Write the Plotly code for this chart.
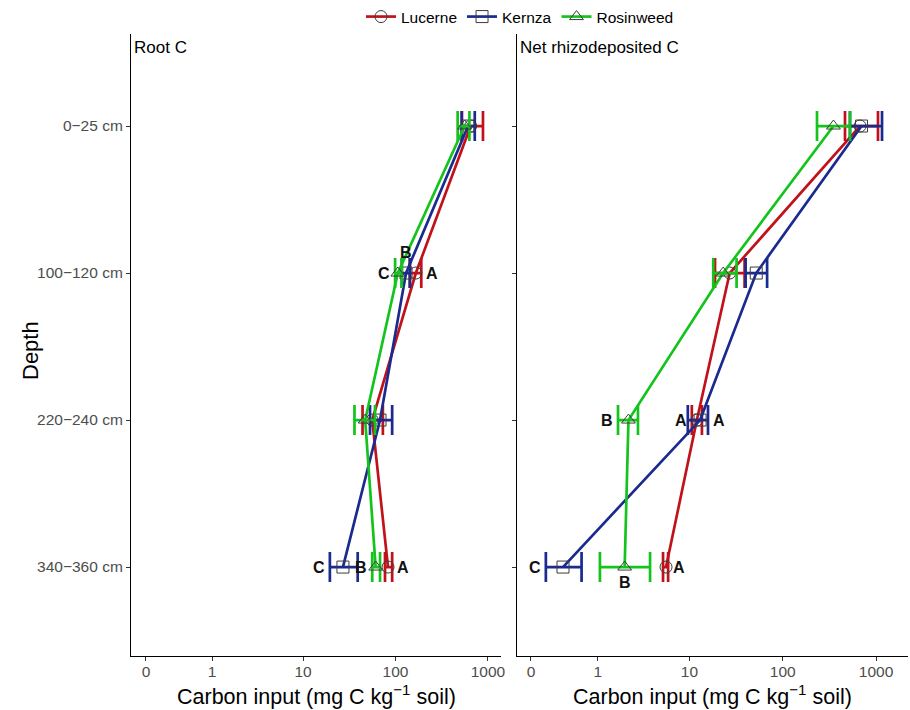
import numpy as np
import plotly.graph_objects as go

depths = ["0−25 cm", "100−120 cm", "220−240 cm", "340−360 cm"]
species = ["Lucerne", "Kernza", "Rosinweed"]

# Root C (mg C kg-1 soil): mean, lower, upper
root_lucerne = [650, 166, 56, 83]
root_lucerne_lo = [523, 143, 44, 77]
root_lucerne_hi = [883, 190, 73, 92]
root_kernza = [610, 130, 68, 27]
root_kernza_lo = [520, 117, 53, 19.5]
root_kernza_hi = [720, 143, 92, 39]
root_rosinweed = [560, 106, 47, 61]
root_rosinweed_lo = [470, 99, 36, 56]
root_rosinweed_hi = [630, 117, 60, 68]

# Net rhizodeposited C
net_lucerne = [674, 27, 12, 5.6]
net_lucerne_lo = [465, 18.8, 10.6, 5.2]
net_lucerne_hi = [1050, 39, 13.6, 5.9]
net_kernza = [700, 52, 13, 0.35]
net_kernza_lo = [526, 40, 9.6, 0.15]
net_kernza_hi = [1160, 68, 15.8, 0.64]
net_rosinweed = [350, 23, 2.2, 2.0]
net_rosinweed_lo = [233, 18, 1.69, 1.06]
net_rosinweed_hi = [526, 32, 2.79, 3.77]

# significance letters: (panel, depth index, species, letter, side)
letters = [
    ("root", 1, "Rosinweed", "C", "left"),
    ("root", 1, "Kernza", "B", "top"),
    ("root", 1, "Lucerne", "A", "right"),
    ("root", 3, "Kernza", "C", "left"),
    ("root", 3, "Rosinweed", "B", "left"),
    ("root", 3, "Lucerne", "A", "right"),
    ("net", 2, "Rosinweed", "B", "left"),
    ("net", 2, "Lucerne", "A", "left"),
    ("net", 2, "Kernza", "A", "right"),
    ("net", 3, "Kernza", "C", "left"),
    ("net", 3, "Rosinweed", "B", "bottom"),
    ("net", 3, "Lucerne", "A", "right"),
]

tick_vals = [0, 1, 10, 100, 1000]
tick_text = ["0", "1", "10", "100", "1000"]

colors = {"Lucerne": "#C0121B", "Kernza": "#1B2A8F", "Rosinweed": "#14C41C"}
symbols = {"Lucerne": "circle-open", "Kernza": "square-open", "Rosinweed": "triangle-up-open"}

SIG = 0.2


def tr(v):
    v = np.asarray(v, dtype=float)
    return np.arcsinh(v / (2 * SIG)) / np.log(10)


data = {
    "root": {
        "Lucerne": (root_lucerne, root_lucerne_lo, root_lucerne_hi),
        "Kernza": (root_kernza, root_kernza_lo, root_kernza_hi),
        "Rosinweed": (root_rosinweed, root_rosinweed_lo, root_rosinweed_hi),
    },
    "net": {
        "Lucerne": (net_lucerne, net_lucerne_lo, net_lucerne_hi),
        "Kernza": (net_kernza, net_kernza_lo, net_kernza_hi),
        "Rosinweed": (net_rosinweed, net_rosinweed_lo, net_rosinweed_hi),
    },
}

fig = go.Figure()
axes = {"root": ("x", "y"), "net": ("x2", "y2")}
for panel in ["root", "net"]:
    xa, ya = axes[panel]
    for sp in species:
        m, lo, hi = data[panel][sp]
        tm, tl, th = tr(m), tr(lo), tr(hi)
        fig.add_trace(go.Scatter(
            x=tm, y=list(range(len(depths))), xaxis=xa, yaxis=ya,
            mode="lines+markers", name=sp, legendgroup=sp,
            showlegend=(panel == "root"),
            line=dict(color=colors[sp], width=2.7),
            marker=dict(symbol=symbols[sp], size=12, color="#3C3C3C",
                        line=dict(width=1, color="#3C3C3C")),
            error_x=dict(type="data", symmetric=False, array=th - tm,
                         arrayminus=tm - tl, color=colors[sp],
                         thickness=2.7, width=15),
        ))

annotations = []
for panel, di, sp, let, side in letters:
    xa, ya = axes[panel]
    m, lo, hi = data[panel][sp]
    if side == "left":
        x, xanchor, xs, ys = tr(lo[di]), "right", -3, 0
    elif side == "right":
        x, xanchor, xs, ys = tr(hi[di]), "left", 3, 0
    elif side == "top":
        x, xanchor, xs, ys = tr(m[di]), "center", 0, 21
    else:
        x, xanchor, xs, ys = tr(m[di]), "center", 0, -15
    annotations.append(dict(x=float(x), y=di, xref=xa, yref=ya, text="<b>" + let + "</b>",
                            showarrow=False, xanchor=xanchor, yanchor="middle",
                            xshift=xs, yshift=ys,
                            font=dict(size=16, color="#111111", family="Liberation Sans")))

# panel titles
annotations.append(dict(x=0, y=1, xref="x domain", yref="y domain", text="Root C",
                        showarrow=False, xanchor="left", yanchor="top", xshift=1, yshift=-2,
                        font=dict(size=17, color="black")))
annotations.append(dict(x=0, y=1, xref="x2 domain", yref="y2 domain", text="Net rhizodeposited C",
                        showarrow=False, xanchor="left", yanchor="top", xshift=1, yshift=-2,
                        font=dict(size=17, color="black")))
# axis titles
xt = "Carbon input (mg C kg<sup>−1</sup> soil)"
annotations.append(dict(x=0.5, y=1 - 695 / 710, xref="x domain", yref="paper", text=xt, showarrow=False,
                        xanchor="center", yanchor="middle", font=dict(size=21.5, color="black")))
annotations.append(dict(x=0.5, y=1 - 695 / 710, xref="x2 domain", yref="paper", text=xt, showarrow=False,
                        xanchor="center", yanchor="middle", font=dict(size=21.5, color="black")))
annotations.append(dict(x=30 / 910, y=0.5, xref="paper", yref="y domain", text="Depth", showarrow=False,
                        textangle=-90, xanchor="center", yanchor="middle", yshift=-6,
                        font=dict(size=22, color="black")))

xcommon = dict(tickvals=[float(v) for v in tr(tick_vals)], ticktext=tick_text,
               showline=True, linecolor="black", linewidth=1.2, ticks="outside",
               ticklen=4, tickcolor="#333333", showgrid=False, zeroline=False,
               ticklabelstandoff=-3,
               tickfont=dict(size=15.5, color="#4D4D4D"), automargin=False)
ycommon = dict(tickvals=list(range(len(depths))), ticktext=depths,
               range=[3.605, -0.626], showline=True, linecolor="black", linewidth=1.2,
               ticks="outside", ticklen=4, tickcolor="#333333", showgrid=False,
               zeroline=False, tickfont=dict(size=15.5, color="#4D4D4D"), automargin=False,
               domain=[1 - 656 / 710, 1 - 34 / 710])

fig.update_layout(
    width=910, height=710,
    margin=dict(l=0, r=0, t=0, b=0),
    paper_bgcolor="white", plot_bgcolor="white",
    font=dict(family="Liberation Sans, Arial, sans-serif", color="black"),
    xaxis=dict(domain=[131 / 910, 501 / 910], range=[-0.162, 3.84], anchor="y", **xcommon),
    xaxis2=dict(domain=[517 / 910, 908 / 910], range=[-0.150, 4.042], anchor="y2", **xcommon),
    yaxis=dict(anchor="x", **ycommon),
    yaxis2=dict(anchor="x2", showticklabels=False,
                **{k: v for k, v in ycommon.items() if k != "ticktext"}),
    legend=dict(orientation="h", x=520 / 910, xanchor="center", y=1.0, yanchor="top",
                font=dict(size=15.5, color="black"), itemwidth=30, tracegroupgap=0,
                bgcolor="rgba(0,0,0,0)"),
    annotations=annotations,
)

fig.write_html("out.html")
